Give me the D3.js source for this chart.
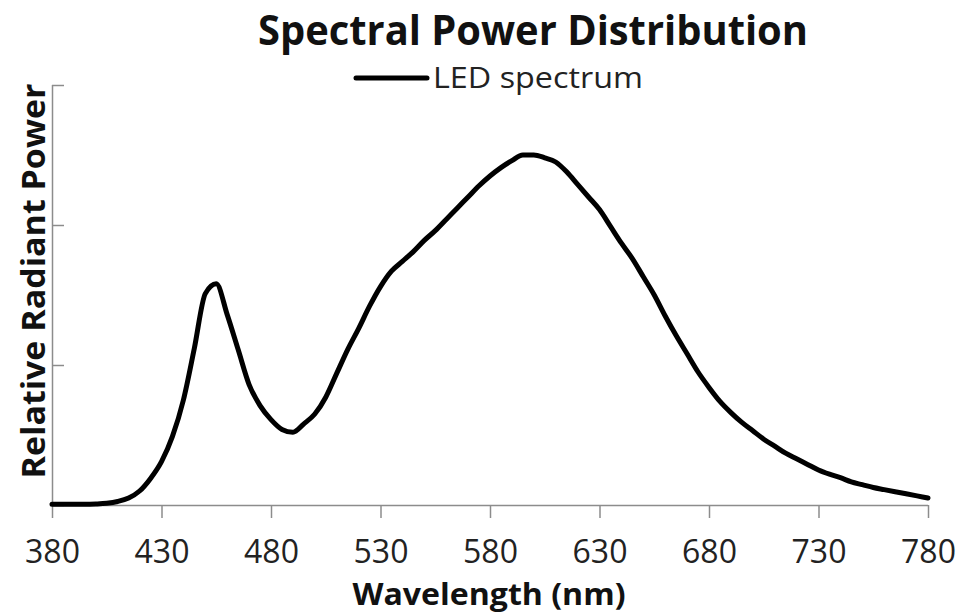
<!DOCTYPE html>
<html>
<head>
<meta charset="utf-8">
<script src="https://cdn.jsdelivr.net/npm/d3@7"></script>
<style>
  html, body { margin: 0; padding: 0; background: #fff; }
  svg { display: block; }
</style>
</head>
<body>
<svg id="chart" width="962" height="615"></svg>
<script>
// ---- data ----
const wavelengths = [380,385,390,395,400,405,410,415,420,425,430,435,440,445,450,455,460,465,470,475,480,485,490,495,500,505,510,515,520,525,530,535,540,545,550,555,560,565,570,575,580,585,590,595,600,605,610,615,620,625,630,635,640,645,650,655,660,665,670,675,680,685,690,695,700,705,710,715,720,725,730,735,740,745,750,755,760,765,770,775,780];
const ledPower = [0.005,0.005,0.005,0.005,0.007,0.012,0.025,0.05,0.10,0.19,0.31,0.49,0.75,1.12,1.51,1.58,1.36,1.11,0.86,0.71,0.61,0.54,0.52,0.58,0.65,0.77,0.94,1.11,1.26,1.42,1.56,1.67,1.74,1.81,1.89,1.96,2.04,2.12,2.20,2.28,2.35,2.41,2.46,2.50,2.50,2.48,2.45,2.38,2.29,2.20,2.11,1.99,1.87,1.76,1.63,1.50,1.35,1.21,1.08,0.95,0.84,0.74,0.66,0.59,0.53,0.47,0.42,0.37,0.33,0.29,0.25,0.22,0.195,0.165,0.145,0.125,0.11,0.095,0.08,0.065,0.05];
const xTicks = [380,430,480,530,580,630,680,730,780];
const yTicks = [0,1,2,3];
const seriesName = "LED spectrum";
const titleText = "Spectral Power Distribution";
const xTitle = "Wavelength (nm)";
const yTitle = "Relative Radiant Power";

// ---- layout ----
const svg = d3.select("#chart");
const mLeft = 52, mRight = 928, mTop = 85, mBottom = 505;
const x = d3.scaleLinear().domain([380, 780]).range([mLeft, mRight]);
const y = d3.scaleLinear().domain([0, 3]).range([mBottom, mTop]);
const axisColor = "#8c8c8c";

// x axis
const gx = svg.append("g").attr("transform", `translate(0,${mBottom})`)
  .call(d3.axisBottom(x).tickValues(xTicks).tickSize(13).tickPadding(16).tickFormat(d3.format("d")));
gx.select(".domain").attr("stroke", axisColor).attr("stroke-width", 1.5).attr("d", `M${mLeft},0.5H${mRight}`);
gx.selectAll(".tick line").attr("stroke", axisColor).attr("stroke-width", 1.5);
gx.selectAll(".tick text").attr("font-family", "Open Sans, sans-serif").attr("font-size", 32).attr("fill", "#222").attr("dy", "0.9em");

// y axis (inner ticks, no labels)
const gy = svg.append("g").attr("transform", `translate(${mLeft},0)`)
  .call(d3.axisRight(y).tickValues(yTicks).tickSize(12).tickFormat(""));
gy.select(".domain").attr("stroke", axisColor).attr("stroke-width", 1.5).attr("d", `M0.5,${mTop}V${mBottom}`);
gy.selectAll(".tick line").attr("stroke", axisColor).attr("stroke-width", 1.5);

// line
const line = d3.line().x((d, i) => x(wavelengths[i])).y(d => y(d)).curve(d3.curveMonotoneX);
svg.append("path").datum(ledPower)
  .attr("fill", "none").attr("stroke", "#000").attr("stroke-width", 5)
  .attr("stroke-linejoin", "round").attr("stroke-linecap", "round")
  .attr("d", line);

// title
svg.append("text").attr("x", 533).attr("y", 45).attr("text-anchor", "middle")
  .attr("font-family", "Open Sans, sans-serif").attr("font-weight", "bold").attr("font-size", 41)
  .attr("textLength", 550).attr("lengthAdjust", "spacingAndGlyphs")
  .attr("fill", "#111").text(titleText);

// legend
svg.append("line").attr("x1", 356).attr("x2", 427).attr("y1", 78).attr("y2", 78)
  .attr("stroke", "#000").attr("stroke-width", 5).attr("stroke-linecap", "round");
svg.append("text").attr("x", 433).attr("y", 88)
  .attr("font-family", "Open Sans, sans-serif").attr("font-size", 29)
  .attr("textLength", 210).attr("lengthAdjust", "spacingAndGlyphs")
  .attr("fill", "#222").text(seriesName);

// axis titles
svg.append("text").attr("x", 489).attr("y", 605).attr("text-anchor", "middle")
  .attr("font-family", "Open Sans, sans-serif").attr("font-weight", "bold").attr("font-size", 31)
  .attr("textLength", 273).attr("lengthAdjust", "spacingAndGlyphs")
  .attr("fill", "#111").text(xTitle);

svg.append("text").attr("transform", "translate(45,281) rotate(-90)").attr("text-anchor", "middle")
  .attr("font-family", "Open Sans, sans-serif").attr("font-weight", "bold").attr("font-size", 33)
  .attr("textLength", 395).attr("lengthAdjust", "spacingAndGlyphs")
  .attr("fill", "#111").text(yTitle);
</script>
</body>
</html>
